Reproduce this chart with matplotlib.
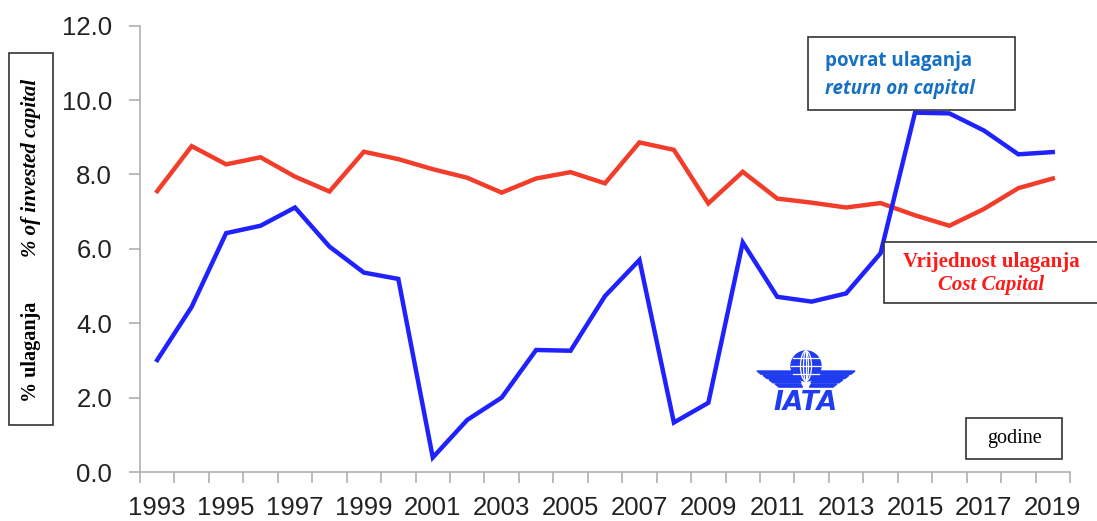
import matplotlib.pyplot as plt
import numpy as np
from matplotlib.patches import Rectangle, Circle, Ellipse, Polygon

# Data (1993-2019)
years = list(range(1993, 2020))
return_on_capital = [3.01, 4.44, 6.42, 6.62, 7.11, 6.06, 5.36, 5.19, 0.39, 1.40,
                     2.00, 3.28, 3.26, 4.73, 5.70, 1.33, 1.86, 6.17, 4.71, 4.58,
                     4.80, 5.88, 9.66, 9.64, 9.18, 8.54, 8.60]
cost_of_capital = [7.55, 8.76, 8.27, 8.46, 7.94, 7.54, 8.61, 8.41, 8.14, 7.91,
                   7.51, 7.89, 8.06, 7.76, 8.86, 8.66, 7.22, 8.07, 7.35, 7.24,
                   7.11, 7.23, 6.90, 6.62, 7.07, 7.63, 7.89]
y_ticks = [0, 2, 4, 6, 8, 10, 12]

W, H = 1097, 521
fig = plt.figure(figsize=(W / 100, H / 100), dpi=100)


def fx(px):
    return px / W


def fy(py):
    return 1 - py / H


ax = fig.add_axes([fx(140), fy(472), fx(1070) - fx(140), fy(25.6) - fy(472)])

x = np.arange(len(years))
ax.plot(x, return_on_capital, color='#1f22ff', lw=3.2, solid_joinstyle='miter', zorder=3)
ax.plot(x, cost_of_capital, color='#f23d2b', lw=3.2, solid_joinstyle='miter', zorder=2)

ax.set_xlim(-0.5, len(years) - 0.5)
ax.set_ylim(0, 12)

# axes styling
for side in ['top', 'right']:
    ax.spines[side].set_visible(False)
for side in ['left', 'bottom']:
    ax.spines[side].set_color('#b0b0b0')
    ax.spines[side].set_linewidth(1.2)

ax.set_yticks(y_ticks)
ax.set_yticklabels([f'{v:.1f}' for v in y_ticks], fontsize=18.5,
                   family='Liberation Sans', color='#222222')
ax.tick_params(axis='y', length=8, color='#b0b0b0', width=1.2, pad=12)

# ticks at category boundaries, labels at every other category
ax.set_xticks(np.arange(len(years) + 1) - 0.5)
ax.set_xticklabels([])
ax.tick_params(axis='x', which='major', length=8, color='#b0b0b0', width=1.2)
ax.set_xticks(x[::2], minor=True)
ax.set_xticklabels([str(y) for y in years[::2]], minor=True, fontsize=18.5,
                   family='Liberation Sans', color='#222222')
ax.tick_params(axis='x', which='minor', length=0, pad=17)


def box(x0, y0, x1, y1):
    fig.add_artist(Rectangle((fx(x0), fy(y1)), fx(x1) - fx(x0), fy(y0) - fy(y1),
                             transform=fig.transFigure, facecolor='white',
                             edgecolor='#333333', lw=1.2, zorder=5))


# y-axis label box
box(9, 53, 53, 425)
fig.text(fx(31), fy(352), '% ulaganja', rotation=90, ha='center', va='center',
         family='Liberation Serif', weight='bold', fontsize=14.5, zorder=6)
fig.text(fx(31), fy(168), '% of invested capital', rotation=90, ha='center', va='center',
         family='Liberation Serif', weight='bold', style='italic', fontsize=15, zorder=6)

# return on capital label
box(808, 37, 1015, 110)
fig.text(fx(825), fy(61), 'povrat ulaganja', ha='left', va='center', color='#1570c4',
         family='Open Sans', weight='bold', fontsize=13.5, zorder=6)
fig.text(fx(825), fy(89), 'return on capital', ha='left', va='center', color='#1570c4',
         family='Open Sans', weight='bold', style='italic', fontsize=13.5, zorder=6)

# cost of capital label
box(884, 242, 1100, 303)
fig.text(fx(991), fy(262), 'Vrijednost ulaganja', ha='center', va='center', color='#ff1a1a',
         family='Liberation Serif', weight='bold', fontsize=15, zorder=6)
fig.text(fx(991), fy(285), 'Cost Capital', ha='center', va='center', color='#ff1a1a',
         family='Liberation Serif', weight='bold', style='italic', fontsize=15, zorder=6)

# x-axis label box
box(966, 418, 1062, 459)
fig.text(fx(1014), fy(438), 'godine', ha='center', va='center',
         family='Liberation Serif', fontsize=14.5, zorder=6)

# IATA logo, drawn in pixel coordinates
lx0, lx1, ly0, ly1 = 752, 860, 348, 418
lax = fig.add_axes([fx(lx0), fy(ly1), fx(lx1) - fx(lx0), fy(ly0) - fy(ly1)])
lax.set_xlim(lx0, lx1)
lax.set_ylim(ly1, ly0)
lax.axis('off')
logo_blue = '#1f3cf0'
gx, gy, gr = 806, 366, 15
lax.add_patch(Circle((gx, gy), gr, color=logo_blue))
for w in [5, 11]:
    lax.add_patch(Ellipse((gx, gy), w, 2 * gr, fill=False, edgecolor='white', lw=0.9))
lax.plot([gx, gx], [gy - gr, gy + gr], color='white', lw=0.9)
for dy in [-8, 0, 8]:
    half = np.sqrt(gr ** 2 - dy ** 2)
    lax.plot([gx - half, gx + half], [gy + dy, gy + dy], color='white', lw=0.9)
for k in range(4):
    ytop = 371 + 4.3 * k
    xl = 757 + 6 * k
    xr = 796 + 1.5 * k
    lax.add_patch(Polygon([(xl, ytop), (xr, ytop), (xr + 2, ytop + 3.2), (xl + 4, ytop + 3.2)],
                          color=logo_blue))
    lax.add_patch(Polygon([(2 * gx - xl, ytop), (2 * gx - xr, ytop),
                           (2 * gx - xr - 2, ytop + 3.2), (2 * gx - xl - 4, ytop + 3.2)],
                          color=logo_blue))
lax.text(gx, 403, 'IATA', ha='center', va='center', color=logo_blue,
         family='DejaVu Sans', weight='bold', style='italic', fontsize=19)

plt.savefig('out.png', dpi=100)
plt.close(fig)
